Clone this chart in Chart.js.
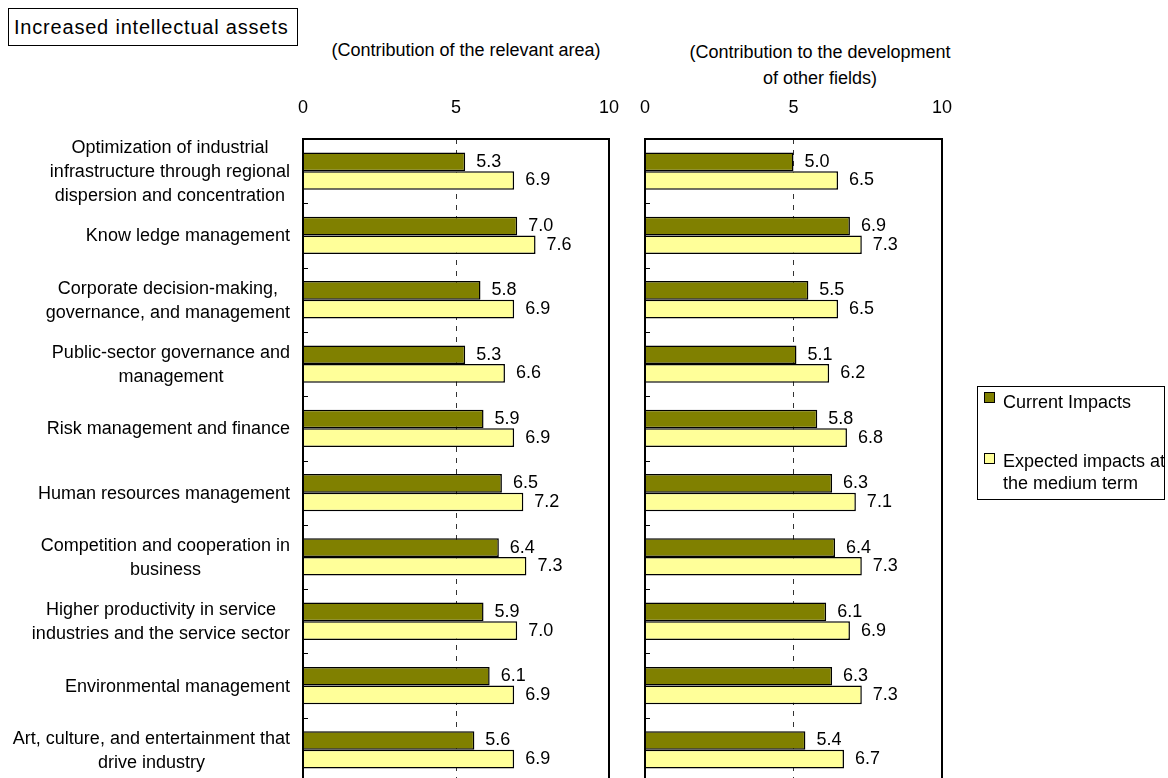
<!DOCTYPE html>
<html>
<head>
<meta charset="utf-8">
<script src="https://cdn.jsdelivr.net/npm/chart.js@4.4.1/dist/chart.umd.min.js"></script>
<style>
  html, body { margin: 0; padding: 0; background: #fff; overflow: hidden; }
  body { width: 1168px; height: 778px; position: relative; font-family: "Liberation Sans", Arial, sans-serif; color: #000; }
  canvas { position: absolute; left: 0; top: 0; }
  .title-box { position: absolute; left: 8px; top: 8px; width: 283px; height: 36px; border: 1px solid #000;
    font-size: 20px; letter-spacing: 0.8px; line-height: 36px; padding-left: 5px; box-sizing: content-box; white-space: nowrap; }
  .sub { position: absolute; font-size: 18px; text-align: center; line-height: 26px; white-space: nowrap; }
  .legend { position: absolute; left: 977px; top: 386px; width: 186px; height: 112px; border: 1px solid #000; background: #fff; }
  .legend .sw { position: absolute; left: 6px; width: 9px; height: 9px; border: 1px solid #000; }
  .legend .tx { position: absolute; left: 25px; font-size: 18px; line-height: 22px; white-space: nowrap; }
</style>
</head>
<body>
<div class="title-box">Increased intellectual assets</div>
<div class="sub" style="left:316px; top:37px; width:300px;">(Contribution of the relevant area)</div>
<div class="sub" style="left:670px; top:39px; width:300px;">(Contribution to the development<br>of other fields)</div>

<canvas id="leftChart" width="1168" height="800"></canvas>
<canvas id="rightChart" width="1168" height="800"></canvas>

<div class="legend">
  <div class="sw" style="top:5px; background:#808000;"></div>
  <div class="tx" style="top:4px;">Current Impacts</div>
  <div class="sw" style="top:66px; background:#FFFF99;"></div>
  <div class="tx" style="top:63px;">Expected impacts at<br>the medium term</div>
</div>

<script>
// Category labels (each entry is the list of lines shown for that row)
const categories = [
  ["Optimization of industrial", "infrastructure through regional", "dispersion and concentration"],
  ["Know ledge management"],
  ["Corporate decision-making,", "governance, and management"],
  ["Public-sector governance and", "management"],
  ["Risk management and finance"],
  ["Human resources management"],
  ["Competition and cooperation in", "business"],
  ["Higher productivity in service", "industries and the service sector"],
  ["Environmental management"],
  ["Art, culture, and entertainment that", "drive industry"]
];

const seriesNames = ["Current Impacts", "Expected impacts at the medium term"];

// Contribution of the relevant area
const areaCurrent  = [5.3, 7.0, 5.8, 5.3, 5.9, 6.5, 6.4, 5.9, 6.1, 5.6];
const areaExpected = [6.9, 7.6, 6.9, 6.6, 6.9, 7.2, 7.3, 7.0, 6.9, 6.9];

// Contribution to the development of other fields
const otherCurrent  = [5.0, 6.9, 5.5, 5.1, 5.8, 6.3, 6.4, 6.1, 6.3, 5.4];
const otherExpected = [6.5, 7.3, 6.5, 6.2, 6.8, 7.1, 7.3, 6.9, 7.3, 6.7];

const tickValues = [0, 5, 10];

const FONT = '"Liberation Sans", Arial, sans-serif';
const DARK = '#808000';
const LIGHT = '#FFFF99';

// Black frame round the plot area plus short ticks between the rows
const framePlugin = {
  id: 'frame',
  afterDatasetsDraw(chart) {
    const { ctx, chartArea: a, scales } = chart;
    const y = scales.y;
    ctx.save();
    ctx.strokeStyle = '#000';
    ctx.lineWidth = 2;
    ctx.strokeRect(a.left, a.top, a.right - a.left, a.bottom - a.top);
    ctx.lineWidth = 1;
    ctx.beginPath();
    for (let i = 0; i < categories.length - 1; i++) {
      const yy = Math.round((y.getPixelForValue(i) + y.getPixelForValue(i + 1)) / 2) + 0.5;
      ctx.moveTo(a.left, yy);
      ctx.lineTo(a.left + 5, yy);
    }
    ctx.stroke();
    ctx.restore();
  }
};

// Value printed just past the end of every bar
const valueLabelPlugin = {
  id: 'valueLabels',
  afterDatasetsDraw(chart) {
    const { ctx } = chart;
    ctx.save();
    ctx.font = '18px ' + FONT;
    ctx.fillStyle = '#000';
    ctx.textAlign = 'left';
    ctx.textBaseline = 'middle';
    chart.data.datasets.forEach((ds, di) => {
      const meta = chart.getDatasetMeta(di);
      meta.data.forEach((bar, i) => {
        ctx.fillText(ds.data[i].toFixed(1), bar.x + 11, bar.y);
      });
    });
    ctx.restore();
  }
};

// Row captions: lines centred within a block whose right edge sits left of the plot
const rowCaptionPlugin = {
  id: 'rowCaptions',
  afterDraw(chart) {
    const { ctx, scales } = chart;
    const y = scales.y;
    const rightEdge = 290;
    const lineH = 24;
    ctx.save();
    ctx.font = '18px ' + FONT;
    ctx.fillStyle = '#000';
    ctx.textAlign = 'center';
    ctx.textBaseline = 'middle';
    categories.forEach((lines, i) => {
      const maxW = Math.max(...lines.map(l => ctx.measureText(l).width));
      const cx = rightEdge - maxW / 2;
      const cy = y.getPixelForValue(i) + 1;
      const y0 = cy - (lines.length - 1) * lineH / 2;
      lines.forEach((l, k) => ctx.fillText(l, cx, y0 + k * lineH));
    });
    ctx.restore();
  }
};

function makePanel(canvasId, current, expected, left, right, withCaptions) {
  const plugins = [framePlugin, valueLabelPlugin];
  if (withCaptions) plugins.push(rowCaptionPlugin);
  return new Chart(document.getElementById(canvasId), {
    type: 'bar',
    data: {
      labels: categories,
      datasets: [
        { label: seriesNames[0], data: current, backgroundColor: DARK, borderColor: '#000', borderWidth: 1.5 },
        { label: seriesNames[1], data: expected, backgroundColor: LIGHT, borderColor: '#000', borderWidth: 1.5 }
      ]
    },
    options: {
      indexAxis: 'y',
      responsive: false,
      animation: false,
      events: [],
      categoryPercentage: 0.58,
      barPercentage: 1.0,
      layout: { padding: { left: left, right: 1168 - right, top: 0, bottom: 800 - 782 } },
      plugins: { legend: { display: false }, tooltip: { enabled: false } },
      scales: {
        x: {
          position: 'top',
          min: 0,
          max: 10,
          afterBuildTicks(scale) { scale.ticks = tickValues.map(v => ({ value: v })); },
          afterFit(scale) { scale.height = 139; },
          ticks: { font: { family: FONT, size: 18 }, color: '#000', padding: 20 },
          grid: {
            drawTicks: false,
            lineWidth: 1,
            color: c => (c.tick && c.tick.value === 5) ? '#333' : 'rgba(0,0,0,0)'
          },
          border: { display: false, dash: [5, 6] }
        },
        y: {
          afterFit(scale) { scale.width = 0; },
          ticks: { display: false },
          grid: { display: false, drawTicks: false },
          border: { display: false }
        }
      }
    },
    plugins: plugins
  });
}

makePanel('leftChart', areaCurrent, areaExpected, 303, 609, true);
makePanel('rightChart', otherCurrent, otherExpected, 645, 942, false);
</script>
</body>
</html>
